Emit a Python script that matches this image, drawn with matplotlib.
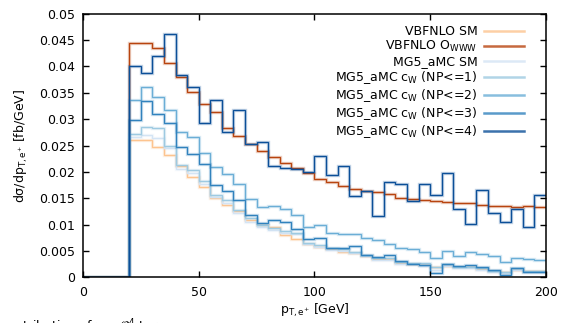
import numpy as np
import matplotlib
matplotlib.use("Agg")
import matplotlib.pyplot as plt
from matplotlib.lines import Line2D
from matplotlib.ticker import FormatStrFormatter, MultipleLocator

plt.rcParams['font.family'] = ['DejaVu Sans']
plt.rcParams['mathtext.default'] = 'regular'

# bins of 5 GeV from 0 to 200 GeV, first four bins (0-20 GeV) are empty
bin_edges = np.arange(0, 205, 5)
empty = [0.0, 0.0, 0.0, 0.0]

vbfnlo_sm = empty + [0.0260, 0.0261, 0.0248, 0.0232, 0.0211, 0.0191, 0.0171, 0.0150, 0.0137, 0.0125,
                     0.0109, 0.0099, 0.0096, 0.0080, 0.0072, 0.0064, 0.0058, 0.0053, 0.0049, 0.0046,
                     0.0041, 0.0035, 0.0035, 0.0028, 0.0025, 0.0024, 0.0019, 0.0022, 0.0019, 0.0020,
                     0.0016, 0.0012, 0.0010, 0.0015, 0.0012, 0.0012]
vbfnlo_owww = empty + [0.0445, 0.0445, 0.0435, 0.0406, 0.0380, 0.0352, 0.0329, 0.0313, 0.0284, 0.0268,
                       0.0253, 0.0240, 0.0228, 0.0216, 0.0207, 0.0197, 0.0186, 0.0180, 0.0173, 0.0168,
                       0.0164, 0.0161, 0.0158, 0.0151, 0.0149, 0.0147, 0.0144, 0.0143, 0.0141, 0.0141,
                       0.0137, 0.0136, 0.0135, 0.0134, 0.0135, 0.0134]
mg5_sm = empty + [0.0266, 0.0270, 0.0264, 0.0245, 0.0205, 0.0197, 0.0177, 0.0153, 0.0142, 0.0123,
                  0.0106, 0.0096, 0.0089, 0.0085, 0.0083, 0.0063, 0.0057, 0.0052, 0.0050, 0.0046,
                  0.0040, 0.0034, 0.0033, 0.0026, 0.0025, 0.0022, 0.0015, 0.0022, 0.0018, 0.0018,
                  0.0015, 0.0010, 0.0008, 0.0015, 0.0010, 0.0010]
mg5_np1 = empty + [0.0271, 0.0286, 0.0283, 0.0250, 0.0213, 0.0204, 0.0183, 0.0156, 0.0147, 0.0128,
                   0.0113, 0.0100, 0.0094, 0.0088, 0.0085, 0.0066, 0.0062, 0.0055, 0.0054, 0.0049,
                   0.0043, 0.0036, 0.0037, 0.0030, 0.0027, 0.0027, 0.0020, 0.0026, 0.0020, 0.0020,
                   0.0017, 0.0013, 0.0011, 0.0017, 0.0013, 0.0013]
mg5_np2 = empty + [0.0336, 0.0360, 0.0341, 0.0317, 0.0276, 0.0267, 0.0236, 0.0210, 0.0196, 0.0177,
                   0.0148, 0.0134, 0.0136, 0.0130, 0.0118, 0.0095, 0.0100, 0.0085, 0.0082, 0.0083,
                   0.0074, 0.0071, 0.0063, 0.0056, 0.0054, 0.0049, 0.0037, 0.0051, 0.0041, 0.0048,
                   0.0044, 0.0041, 0.0030, 0.0036, 0.0035, 0.0033]
mg5_np3 = empty + [0.0298, 0.0335, 0.0309, 0.0292, 0.0248, 0.0233, 0.0215, 0.0175, 0.0163, 0.0147,
                   0.0118, 0.0104, 0.0108, 0.0106, 0.0092, 0.0072, 0.0074, 0.0055, 0.0056, 0.0060,
                   0.0043, 0.0039, 0.0042, 0.0031, 0.0026, 0.0024, 0.0008, 0.0026, 0.0022, 0.0023,
                   0.0019, 0.0014, 0.0004, 0.0017, 0.0011, 0.0011]
mg5_np4 = empty + [0.0401, 0.0387, 0.0420, 0.0462, 0.0384, 0.0361, 0.0292, 0.0336, 0.0275, 0.0317,
                   0.0252, 0.0257, 0.0211, 0.0208, 0.0205, 0.0200, 0.0230, 0.0194, 0.0212, 0.0155,
                   0.0164, 0.0116, 0.0180, 0.0177, 0.0145, 0.0178, 0.0156, 0.0197, 0.0129, 0.0101,
                   0.0166, 0.0123, 0.0105, 0.0129, 0.0096, 0.0156]

labels = ["VBFNLO SM", "VBFNLO O$_{WWW}$", "MG5_aMC SM",
          "MG5_aMC c$_{W}$ (NP<=1)", "MG5_aMC c$_{W}$ (NP<=2)",
          "MG5_aMC c$_{W}$ (NP<=3)", "MG5_aMC c$_{W}$ (NP<=4)"]
colors = ["#fdc48f", "#b8440f", "#d4e4f4", "#9ecae1", "#6baed6", "#3182bd", "#0b4f98"]
series = [vbfnlo_sm, vbfnlo_owww, mg5_sm, mg5_np1, mg5_np2, mg5_np3, mg5_np4]


def main():
    fig = plt.figure(figsize=(5.61, 3.23), dpi=100)
    ax = fig.add_axes([0.148, 0.141, 0.825, 0.817])

    handles = []
    for vals, col, lab in zip(series, colors, labels):
        # soft halo under the line, like the original rendering
        ax.stairs(vals, bin_edges, baseline=None, color=col, lw=2.4, alpha=0.25)
        ax.stairs(vals, bin_edges, baseline=None, color=col, lw=0.95)
        handles.append(Line2D([], [], color=col, lw=1.8, alpha=0.8))

    ax.set_xlim(0, 200)
    ax.set_ylim(0, 0.05)
    ax.xaxis.set_major_locator(MultipleLocator(50))
    ax.yaxis.set_major_locator(MultipleLocator(0.005))
    ax.yaxis.set_major_formatter(FormatStrFormatter('%g'))
    ax.tick_params(direction='in', length=4, width=1, top=True, right=True,
                   labelsize=9, pad=6, colors='black')
    for s in ax.spines.values():
        s.set_linewidth(1.1)

    ax.set_xlabel("p$_{T,e^{+}}$ [GeV]", fontsize=9, labelpad=2)
    ax.set_ylabel("dσ/dp$_{T,e^{+}}$ [fb/GeV]", fontsize=9, labelpad=6)

    ax.legend(handles, labels, loc='upper right', bbox_to_anchor=(0.968, 0.985),
              frameon=False, markerfirst=False, fontsize=9, handlelength=3.2,
              handletextpad=0.5, labelspacing=0.08, borderaxespad=0.2)

    # caption line of the page, mostly cut off at the bottom edge
    fig.text(0.0, -0.008, "contributions from $\\mathcal{O}^4$ terms", fontsize=9, va='center')

    fig.savefig("out.png", dpi=100)


if __name__ == "__main__":
    main()
